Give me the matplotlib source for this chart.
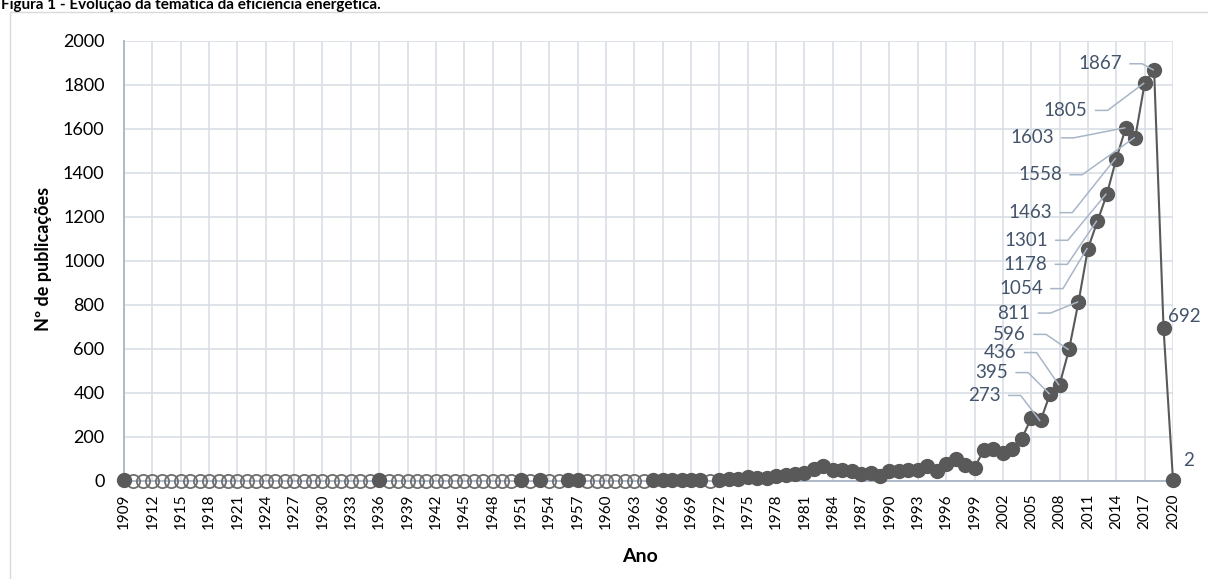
import matplotlib
matplotlib.use('Agg')
import matplotlib.pyplot as plt
import numpy as np
from matplotlib.patches import Rectangle
from matplotlib.lines import Line2D

plt.rcParams['font.family'] = ['Lato', 'DejaVu Sans']

# ---------------- data ----------------
years = list(range(1909, 2021))
N = None
publications = [
    1,                                   # 1909
    N, N, N, N, N, N, N, N, N, N,        # 1910-1919
    N, N, N, N, N, N, N, N, N, N,        # 1920-1929
    N, N, N, N, N, N, 1, N, N, N,        # 1930-1939
    N, N, N, N, N, N, N, N, N, N,        # 1940-1949
    N, 1, N, 1, N, N, 1, 1, N, N,        # 1950-1959
    N, N, N, N, N, 1, 1, 2, 2, 3,        # 1960-1969
    3, N, 2, 5, 8, 18, 10, 12, 21, 26,   # 1970-1979
    29, 33, 52, 64, 48, 48, 45, 30, 33, 20,        # 1980-1989
    45, 45, 48, 48, 67, 44, 76, 97, 70, 59,        # 1990-1999
    140, 145, 123, 142, 189, 285, 273, 395, 436, 596,     # 2000-2009
    811, 1054, 1178, 1301, 1463, 1603, 1558, 1805, 1867, 692,  # 2010-2019
    2,                                   # 2020
]
x_tick_years = years[::3]
y_ticks = list(range(0, 2001, 200))
labeled_years = list(range(2006, 2021))

title = "Figura 1 - Evolução da temática da eficiência energética."
x_title = "Ano"
y_title = "Nº de publicações"

# label placement (pixel offsets from marker; x = text right edge, y down positive)
label_offsets = {
    2006: (-40, -25), 2007: (-42, -21), 2008: (-43, -32), 2009: (-43, -15),
    2010: (-48, 11), 2011: (-45, 40), 2012: (-50, 43), 2013: (-59, 46),
    2014: (-64, 54), 2015: (-72, 10), 2016: (-73, 37), 2017: (-57, 27),
    2018: (-32, -6),
}
right_label_offsets = {2019: (4, -12), 2020: (10, -20)}

# ---------------- style ----------------
W, H = 1208, 579
MARK = '#595959'
LBL = '#44546A'
LEADER = '#A8B6C8'
GRID = '#D9DEE6'
AXIS = '#ADB9CA'

fig = plt.figure(figsize=(W / 100, H / 100), dpi=100)
left_px, right_px, top_px, bot_px = 124, 1173, 40.5, 480.5
ax = fig.add_axes([left_px / W, 1 - bot_px / H, (right_px - left_px) / W, (bot_px - top_px) / H])

vals = np.array([np.nan if v is None else v for v in publications], dtype=float)
yrs = np.array(years)
missing = np.isnan(vals)

ax.plot(yrs, vals, '-', color=MARK, lw=1.5, zorder=3, clip_on=False)
ax.plot(yrs[missing], np.zeros(missing.sum()), 'o', ms=9.5, mfc='none',
        mec='#6e6e6e', mew=1.3, zorder=3, clip_on=False)
ax.plot(yrs[~missing], vals[~missing], 'o', ms=10, mfc=MARK, mec=MARK,
        zorder=4, clip_on=False)

ax.set_xlim(1909, 2020)
ax.set_ylim(0, 2000)
ax.set_xticks(x_tick_years)
ax.set_xticklabels([str(y) for y in x_tick_years], rotation=90, fontsize=11)
ax.set_yticks(y_ticks)
ax.set_yticklabels([str(t) for t in y_ticks], fontsize=13)
ax.tick_params(axis='x', length=0, pad=9.5)
ax.tick_params(axis='y', length=0, pad=14)
ax.grid(True, color=GRID, lw=1.2)
ax.set_axisbelow(True)
for s in ['top', 'right']:
    ax.spines[s].set_visible(False)
for s in ['left', 'bottom']:
    ax.spines[s].set_color(AXIS)
    ax.spines[s].set_linewidth(1.4)
    ax.spines[s].set_zorder(2)

# data labels with leader lines
fig.canvas.draw()
inv = fig.transFigure.inverted()
for yr in labeled_years:
    v = publications[years.index(yr)]
    px, py = ax.transData.transform((yr, v))
    if yr in label_offsets:
        dx, dy = label_offsets[yr]
        ax.annotate(str(v), xy=(yr, v), xytext=(dx, -dy), textcoords='offset pixels',
                    ha='right', va='center', color=LBL, fontsize=13.5, zorder=6,
                    annotation_clip=False)
        ax_, ay_ = px + dx, py - dy
        pts = np.array([[ax_ + 8, ay_], [ax_ + 20, ay_], [px - 1, py]])
        fpts = inv.transform(pts)
        fig.add_artist(Line2D(fpts[:, 0], fpts[:, 1], color=LEADER, lw=1.1,
                              transform=fig.transFigure, zorder=6))
    else:
        dx, dy = right_label_offsets[yr]
        ax.annotate(str(v), xy=(yr, v), xytext=(dx, -dy), textcoords='offset pixels',
                    ha='left', va='center', color=LBL, fontsize=13.5, zorder=6,
                    annotation_clip=False)

# titles
fig.text(640 / W, 1 - 557 / H, x_title, ha='center', va='center',
         fontsize=14, fontweight='bold')
fig.text(44 / W, 1 - 259 / H, y_title, ha='center', va='center', rotation=90,
         fontsize=13, fontweight='bold')
fig.text(1 / W, 1 - 9 / H, title, ha='left', va='baseline', fontsize=11,
         fontweight='bold')

# chart border
fig.add_artist(Rectangle((10 / W, -0.1), 1.2, 1.1 - 12 / H, transform=fig.transFigure,
                         fill=False, edgecolor='#D9D9D9', lw=1))

fig.savefig('out.png', dpi=100)
